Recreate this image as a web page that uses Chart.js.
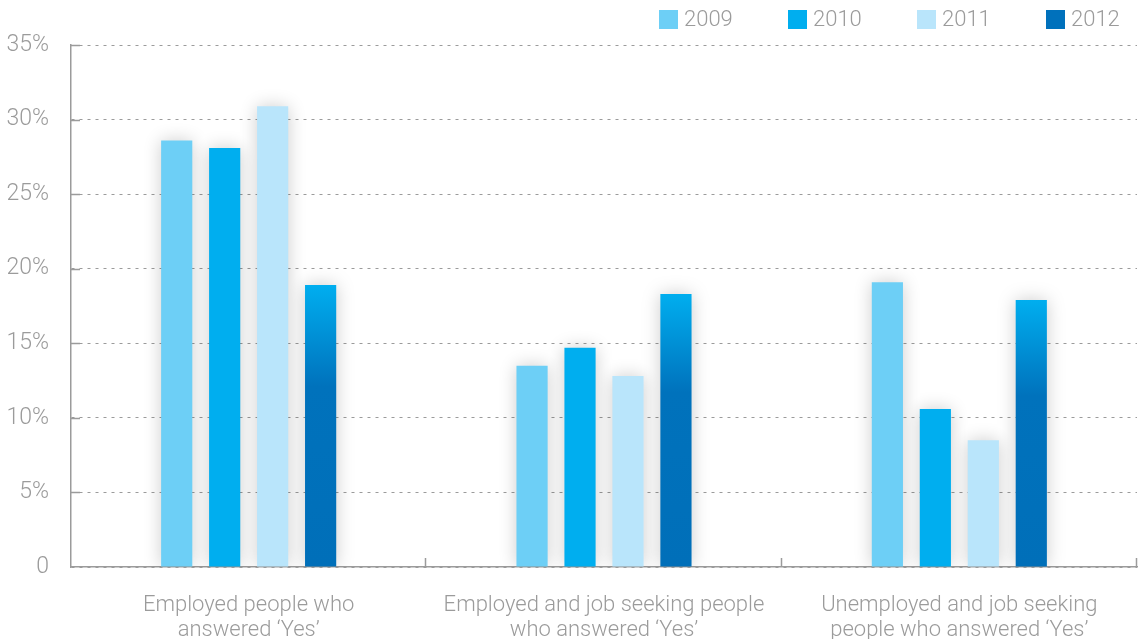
<!DOCTYPE html>
<html>
<head>
<meta charset="utf-8">
<script src="https://cdn.jsdelivr.net/npm/chart.js@4.4.0/dist/chart.umd.min.js"></script>
<style>
  body { margin: 0; background: #fff; }
  #wrap { width: 1145px; height: 639px; }
</style>
</head>
<body>
<div id="wrap"><canvas id="myChart" width="1145" height="639"></canvas></div>
<script>
// survey answers, share of respondents (%)
const categories = [
    ['Employed people who', 'answered \u2018Yes\u2019'],
    ['Employed and job seeking people', 'who answered \u2018Yes\u2019'],
    ['Unemployed and job seeking', 'people who answered \u2018Yes\u2019']
];
const years = ['2009', '2010', '2011', '2012'];
const values2009 = [28.6, 13.5, 19.1];
const values2010 = [28.1, 14.7, 10.6];
const values2011 = [30.9, 12.8, 8.5];
const values2012 = [18.9, 18.3, 17.9];
const yTicks = [0, 5, 10, 15, 20, 25, 30, 35];

const GREY = '#9b9b9b';
const FONT = 'Roboto';

// 2012 bars fade from cyan at the top to dark blue
function gradient2012(context) {
    const chart = context.chart;
    if (!chart.chartArea || context.raw === undefined) return '#0071bc';
    const y = chart.scales.y;
    const top = y.getPixelForValue(context.raw);
    const base = y.getPixelForValue(0);
    const g = chart.ctx.createLinearGradient(0, top, 0, base);
    g.addColorStop(0, '#00aeef');
    g.addColorStop(0.36, '#0072bc');
    g.addColorStop(1, '#006fb9');
    return g;
}

// soft grey halo behind the bars
const barShadow = {
    id: 'barShadow',
    beforeDatasetsDraw(chart) {
        const ctx = chart.ctx;
        ctx.save();
        ctx.shadowColor = 'rgba(0,0,0,0.2)';
        ctx.shadowBlur = 18;
    },
    afterDatasetsDraw(chart) {
        chart.ctx.restore();
    }
};

// short solid ticks pointing into the plot area
const innerTicks = {
    id: 'innerTicks',
    afterDraw(chart) {
        const ctx = chart.ctx;
        const x = chart.scales.x;
        const y = chart.scales.y;
        const area = chart.chartArea;
        ctx.save();
        ctx.strokeStyle = GREY;
        ctx.lineWidth = 1.5;
        ctx.beginPath();
        yTicks.forEach(v => {
            if (v === 0) return;
            const py = Math.round(y.getPixelForValue(v)) + 0.5;
            ctx.moveTo(area.left, py);
            ctx.lineTo(area.left + 9, py);
        });
        for (let i = 1; i <= categories.length; i++) {
            const px = Math.round(x.getPixelForValue(i - 0.5)) - 0.5;
            ctx.moveTo(px, area.bottom);
            ctx.lineTo(px, area.bottom - 9);
        }
        ctx.stroke();
        ctx.restore();
    }
};

// legend row in the top right corner
const topLegend = {
    id: 'topLegend',
    afterDraw(chart) {
        const ctx = chart.ctx;
        ctx.save();
        ctx.font = '300 22px ' + FONT;
        ctx.textBaseline = 'middle';
        let x = chart.width - 486;
        chart.data.datasets.forEach((ds, i) => {
            ctx.fillStyle = i === 3 ? '#0071bc' : ds.backgroundColor;
            ctx.fillRect(x, 10, 19, 19);
            ctx.fillStyle = GREY;
            ctx.fillText(ds.label, x + 25, 20);
            x += 129;
        });
        ctx.restore();
    }
};

function drawChart() {
    const ctx = document.getElementById('myChart');
    const datasetColors = ['#6dcff6', '#00aeef', '#b9e5fb', gradient2012];
    const seriesValues = [values2009, values2010, values2011, values2012];
    new Chart(ctx, {
        type: 'bar',
        data: {
            labels: categories,
            datasets: years.map((year, i) => ({
                label: year,
                data: seriesValues[i],
                backgroundColor: datasetColors[i],
                borderWidth: 0,
                categoryPercentage: 0.54,
                barPercentage: 0.65
            }))
        },
        options: {
            responsive: false,
            animation: false,
            devicePixelRatio: 1,
            layout: { padding: { top: 45, right: 8, left: 0, bottom: 0 } },
            scales: {
                x: {
                    grid: { display: false },
                    border: { color: GREY, width: 1.5 },
                    ticks: {
                        color: GREY,
                        padding: 18,
                        font: { family: FONT, size: 22, weight: 300, lineHeight: 1.15 }
                    },
                    afterFit(scale) { scale.height = 72; }
                },
                y: {
                    min: 0,
                    max: 35,
                    grid: { color: GREY, lineWidth: 1, drawTicks: false },
                    border: { color: GREY, width: 1.5, dash: [3, 5] },
                    ticks: {
                        stepSize: 5,
                        color: GREY,
                        padding: 22,
                        font: { family: FONT, size: 23, weight: 300 },
                        callback: v => v === 0 ? '0' : v + '%'
                    },
                    afterFit(scale) { scale.width = 71; }
                }
            },
            plugins: {
                legend: { display: false },
                tooltip: { enabled: false }
            }
        },
        plugins: [barShadow, innerTicks, topLegend]
    });
}

drawChart();
</script>
</body>
</html>
